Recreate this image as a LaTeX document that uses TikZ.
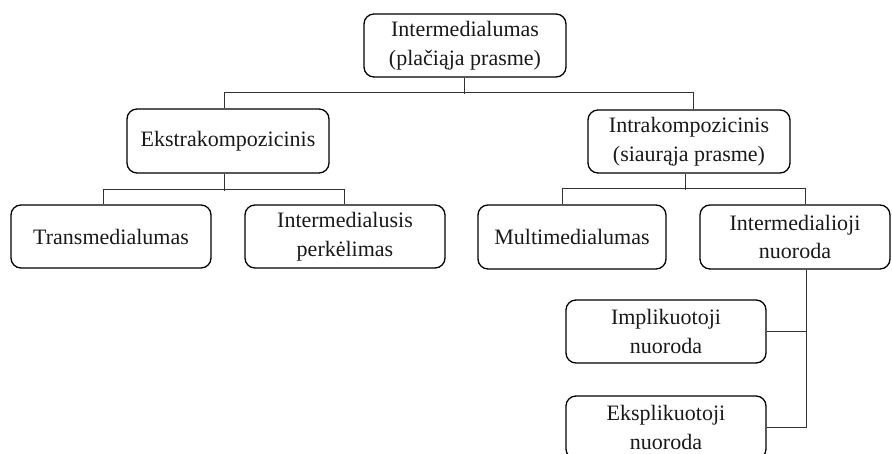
\documentclass[tikz,border=0pt]{standalone}
\usepackage{fontspec}
\setmainfont{Liberation Serif}
\begin{document}
\begin{tikzpicture}[x=1pt,y=-1pt,
  box/.style={draw=black, line width=1.3pt, rounded corners=10pt, align=center,
    inner sep=0pt, font=\fontsize{22}{28.5}\selectfont, text=black!90},
  link/.style={draw=black!80, line width=0.9pt}]
\useasboundingbox (0,0) rectangle (892,454);
\node[box, minimum width=202, minimum height=63] (top) at (465,45.5) {Intermedialumas\\(plačiąja prasme)};
\node[box, minimum width=202, minimum height=64] (ekstra) at (228,141) {Ekstrakompozicinis};
\node[box, minimum width=202, minimum height=63] (intra) at (689,141.5) {Intrakompozicinis\\(siaurąja prasme)};
\node[box, minimum width=200, minimum height=63] (trans) at (111,236.5) {Transmedialumas};
\node[box, minimum width=200, minimum height=63] (perk) at (345,236.5) {Intermedialusis\\perkėlimas};
\node[box, minimum width=188, minimum height=64] (multi) at (572,237) {Multimedialumas};
\node[box, minimum width=190, minimum height=64] (inuor) at (795,237) {Intermedialioji\\nuoroda};
\node[box, minimum width=200, minimum height=63] (impl) at (666,331.5) {Implikuotoji\\nuoroda};
\node[box, minimum width=200, minimum height=63] (ekspl) at (666,427.5) {Eksplikuotoji\\nuoroda};
% level 1
\draw[link] ([xshift=-1]top.south) -- ++(0,16);
\draw[link] ([xshift=-4]ekstra.north) -- ++(0,-16) -| ([xshift=4]intra.north);
% ekstra children
\draw[link] ([xshift=-4]ekstra.south) -- ++(0,17);
\draw[link] ([xshift=-8]trans.north) -- ++(0,-15) -| ([xshift=-1]perk.north);
% intra children
\draw[link] ([xshift=-4]intra.south) -- ++(0,16);
\draw[link] ([xshift=-10]multi.north) -- ++(0,-16) -| ([xshift=10]inuor.north);
% nuoroda children
\draw[link] ([xshift=11]inuor.south) |- (ekspl.east);
\draw[link] (impl.east) -- (impl.east -| inuor.south) -- ++(11,0);
\end{tikzpicture}
\end{document}
